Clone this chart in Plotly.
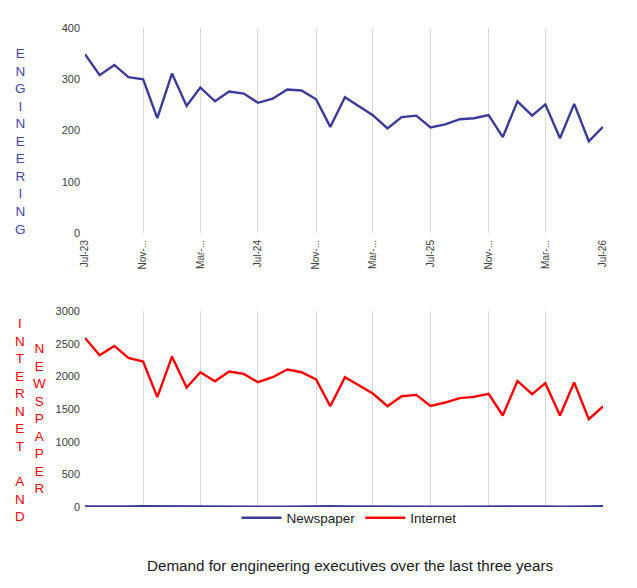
import pandas as pd
import plotly.graph_objects as go
from plotly.subplots import make_subplots

# 月次データ Jul-23 〜 Jul-26
MONTHS = pd.date_range('2023-07-01', '2026-07-01', freq='MS')

ENGINEERING = [349, 308, 328, 304, 300, 224, 311, 248, 284, 257, 276, 272, 254,
               262, 280, 278, 261, 207, 265, 247, 230, 204, 226, 229, 206, 212,
               222, 224, 230, 187, 257, 229, 251, 185, 252, 179, 207]
INTERNET = [2587, 2323, 2465, 2282, 2226, 1681, 2302, 1829, 2063, 1925, 2073, 2037, 1910,
            1986, 2104, 2063, 1954, 1543, 1986, 1859, 1737, 1543, 1696, 1716, 1548, 1599,
            1666, 1686, 1732, 1401, 1930, 1727, 1895, 1401, 1905, 1345, 1538]
NEWSPAPER = [10, 6, 4, 8, 14, 12, 10, 8, 12, 14, 10, 8, 6,
             4, 6, 10, 14, 12, 10, 8, 6, 4, 8, 10, 6, 4,
             6, 8, 10, 6, 4, 12, 8, 6, 4, 10, 12]

TICK_DATES = MONTHS[::4]
TICK_TEXT = ['Jul-23', 'Nov-...', 'Mar-...', 'Jul-24', 'Nov-...', 'Mar-...',
             'Jul-25', 'Nov-...', 'Mar-...', 'Jul-26']

ENG_LETTERS = list('ENGINEERING')
INT_LETTERS = list('INTERNET') + [' '] + list('AND')
NEWS_LETTERS = list('NEWSPAPER')

NAVY = '#3a3a98'
RED = '#ff0000'
GRID = '#d9d9d9'
FONT = 'Liberation Sans, Arial, sans-serif'

# ページの body 余白 (8px) 分を差し引いたサイズ
OFF = 8
W, H = 637 - OFF, 588 - OFF
M_L, M_T = 85 - OFF, 28 - OFF
M_R = W - (603 - OFF)
M_B = H - (507 - OFF)
PH = H - M_T - M_B
PW = W - M_L - M_R


def px_x(x):
    return (x - OFF - M_L) / PW


def px_y(y):
    return (H - M_B - (y - OFF)) / PH


fig = make_subplots(rows=2, cols=1)

fig.add_trace(go.Scatter(x=MONTHS, y=ENGINEERING, mode='lines', line=dict(color=NAVY, width=2.4),
                         showlegend=False), row=1, col=1)
fig.add_trace(go.Scatter(x=MONTHS, y=NEWSPAPER, mode='lines', line=dict(color=NAVY, width=2.4),
                         name='Newspaper'), row=2, col=1)
fig.add_trace(go.Scatter(x=MONTHS, y=INTERNET, mode='lines', line=dict(color=RED, width=2.4),
                         name='Internet'), row=2, col=1)

xrange = [MONTHS[0], MONTHS[-1]]
fig.update_xaxes(range=xrange, tickvals=TICK_DATES, showgrid=True, gridcolor=GRID, gridwidth=1,
                 zeroline=False, showline=False, ticks='', automargin=False)
fig.update_xaxes(ticktext=TICK_TEXT, tickangle=-90, tickfont=dict(size=10, color='#404040'),
                 ticklabelstandoff=4, domain=[0, 1], row=1, col=1)
fig.update_xaxes(showticklabels=False, row=2, col=1)

fig.update_yaxes(showgrid=False, zeroline=False, showline=False, ticks='', automargin=False,
                 tickfont=dict(size=11, color='#404040'), ticklabelstandoff=4)
fig.update_yaxes(range=[0, 400], tickvals=[0, 100, 200, 300, 400],
                 domain=[px_y(233), 1], row=1, col=1)
fig.update_yaxes(range=[0, 3000], tickvals=list(range(0, 3001, 500)),
                 domain=[0, px_y(311)], row=2, col=1)

# 縦書きラベル
def stacked(letters, x, y_top, color):
    fig.add_annotation(text='<br>'.join(letters), xref='paper', yref='paper',
                       x=px_x(x), y=px_y(y_top), xanchor='center', yanchor='top',
                       showarrow=False, align='center',
                       font=dict(size=13.5, color=color, family=FONT))

stacked(ENG_LETTERS, 20, 44, '#4646aa')
stacked(INT_LETTERS, 20, 314, RED)
stacked(NEWS_LETTERS, 39, 339, RED)

fig.add_annotation(text='Demand for engineering executives over the last three years',
                   xref='paper', yref='paper', x=px_x(350), y=px_y(565),
                   xanchor='center', yanchor='middle', showarrow=False,
                   font=dict(size=15.2, color='#1a1a1a', family=FONT))

fig.update_layout(width=W, height=H, paper_bgcolor='white', plot_bgcolor='white',
                  margin=dict(l=M_L, r=M_R, t=M_T, b=M_B),
                  font=dict(family=FONT),
                  legend=dict(orientation='h', x=px_x(349), xanchor='center',
                              y=px_y(518), yanchor='middle', bgcolor='rgba(0,0,0,0)',
                              font=dict(size=13.5, color='#1a1a1a'), itemwidth=40,
                              tracegroupgap=0))

fig.write_html("out.html")
